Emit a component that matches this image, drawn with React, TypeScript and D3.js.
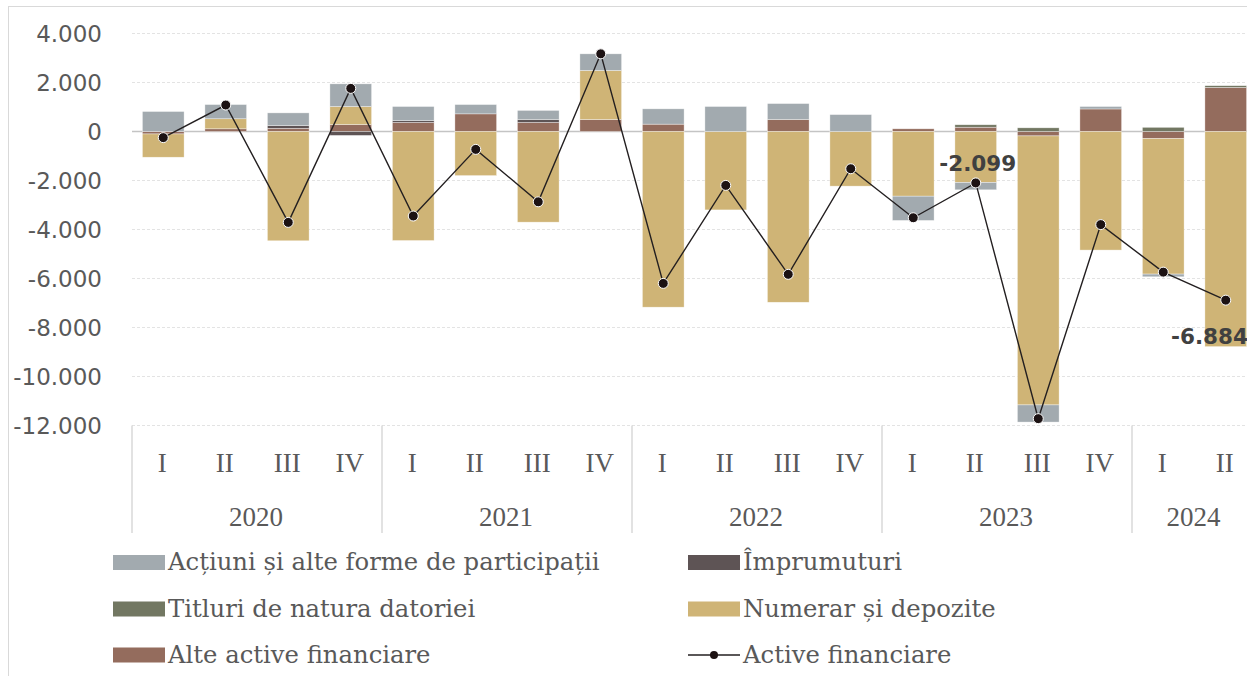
import React from "react";
import * as d3 from "d3";

const quarters = ["I", "II", "III", "IV", "I", "II", "III", "IV", "I", "II", "III", "IV", "I", "II", "III", "IV", "I", "II"];
const yearLabels = ["2020", "2021", "2022", "2023", "2024"];
const yearSpans = [4, 4, 4, 4, 2];

const actiuni = [816, 580, 520, 925, 570, 380, 370, 680, 625, 1020, 650, 690, -990, -300, -700, 100, -110, 0];
const imprumuturi = [0, 0, 110, -160, 80, 0, 120, 0, 0, 0, 0, 0, 0, 0, 0, 0, 0, 0];
const titluri = [0, 0, 0, 0, 0, 0, 0, 0, 0, 0, 0, 0, 0, 100, 150, 0, 170, 70];
const numerar = [-950, 410, -4460, 735, -4450, -1800, -3700, 2000, -7170, -3200, -6970, -2230, -2640, -2080, -10980, -4840, -5530, -8780];
const alte = [-100, 110, 130, 285, 370, 720, 370, 490, 300, 0, 490, 0, 110, 175, -180, 920, -290, 1800];
const activeFinanciare = [-250, 1080, -3710, 1760, -3450, -730, -2870, 3170, -6200, -2200, -5830, -1520, -3520, -2099, -11720, -3800, -5740, -6884];

const yTicks = [-12000, -10000, -8000, -6000, -4000, -2000, 0, 2000, 4000];
const labeledPoints = [13, 17];

const seriesNames = {
  actiuni: "Acțiuni și alte forme de participații",
  imprumuturi: "Împrumuturi",
  titluri: "Titluri de natura datoriei",
  numerar: "Numerar și depozite",
  alte: "Alte active financiare",
  line: "Active financiare",
};

const colors: Record<string, string> = {
  actiuni: "#A2AAAF",
  imprumuturi: "#5E5455",
  titluri: "#727762",
  numerar: "#CFB476",
  alte: "#946C5D",
};

const locale = d3.formatLocale({ decimal: ",", thousands: ".", grouping: [3], currency: ["", ""], minus: "-" });
const fmt = locale.format(",d");

export default function App() {
  const W = 1247;
  const H = 676;
  const x = d3.scaleBand<number>().domain(d3.range(quarters.length)).range([132, 1257]).paddingInner(0.333).paddingOuter(0.1665);
  const step = x.step();
  const y = d3.scaleLinear().domain([-12000, 4000]).range([425.5, 33.5]);

  const rows = quarters.map((q, i) => ({
    i,
    alte: alte[i],
    imprumuturi: imprumuturi[i],
    titluri: titluri[i],
    numerar: numerar[i],
    actiuni: actiuni[i],
  }));
  const keys = ["alte", "imprumuturi", "titluri", "numerar", "actiuni"];
  const stacked = d3.stack<any>().keys(keys).offset(d3.stackOffsetDiverging)(rows);

  const cx = (i: number) => (x(i) as number) + x.bandwidth() / 2;
  const line = d3.line<number>().x((_, i) => cx(i)).y((d) => y(d));

  // year groups
  let acc = 0;
  const groups = yearLabels.map((yl, k) => {
    const start = acc;
    acc += yearSpans[k];
    return { label: yl, x0: 132 + start * step, x1: 132 + acc * step };
  });

  const textColor = "#595959";
  const legendItems = [
    { key: "actiuni", col: 0, row: 0 },
    { key: "imprumuturi", col: 1, row: 0 },
    { key: "titluri", col: 0, row: 1 },
    { key: "numerar", col: 1, row: 1 },
    { key: "alte", col: 0, row: 2 },
    { key: "line", col: 1, row: 2 },
  ];
  const legendX = [113, 688];
  const legendY = [555, 601.5, 647.5];

  return (
    <svg width={W} height={H} style={{ position: "absolute", left: 0, top: 0, background: "#fff" }}>
      <rect x={8.5} y={6.5} width={1260} height={700} fill="#fff" stroke="#d9d9d9" strokeWidth={1} />
      {/* gridlines */}
      {yTicks.map((t) => (
        <line
          key={t}
          x1={132}
          x2={1257}
          y1={y(t)}
          y2={y(t)}
          stroke={t === 0 ? "#c4c4c4" : "#e3e3e3"}
          strokeWidth={t === 0 ? 1.6 : 1}
          strokeDasharray={t === 0 ? undefined : "3,2"}
        />
      ))}
      {/* y tick labels */}
      {yTicks.map((t) => (
        <text
          key={"l" + t}
          x={102}
          y={y(t)}
          dy="0.36em"
          textAnchor="end"
          fontFamily="DejaVu Sans"
          fontSize={23}
          fill={textColor}
        >
          {fmt(t)}
        </text>
      ))}
      {/* bars */}
      {stacked.map((s) => (
        <g key={s.key} fill={colors[s.key]}>
          {s.map((d, i) =>
            d[1] - d[0] === 0 ? null : (
              <rect
                key={i}
                x={x(i)}
                width={x.bandwidth()}
                y={y(Math.max(d[0], d[1]))}
                height={Math.abs(y(d[0]) - y(d[1]))}
                stroke="#ffffff"
                strokeOpacity={0.6}
                strokeWidth={0.6}
              />
            )
          )}
        </g>
      ))}
      {/* zero line over bars */}
      {/* line series */}
      <path d={line(activeFinanciare) || ""} fill="none" stroke="#231F20" strokeWidth={1.4} />
      {activeFinanciare.map((v, i) => (
        <circle key={i} cx={cx(i)} cy={y(v)} r={5} fill="#1C1213" stroke="#fff" strokeWidth={1} />
      ))}
      {/* data labels */}
      {labeledPoints.map((i, k) =>
        k === 0 ? (
          <text key={i} x={cx(i) + 2} y={y(activeFinanciare[i]) - 12} textAnchor="middle" fontFamily="DejaVu Sans" fontWeight="bold" fontSize={21.5} fill="#404040">
            {fmt(activeFinanciare[i])}
          </text>
        ) : (
          <text key={i} x={1248} y={y(activeFinanciare[i]) + 44} textAnchor="end" fontFamily="DejaVu Sans" fontWeight="bold" fontSize={21.5} fill="#404040">
            {fmt(activeFinanciare[i])}
          </text>
        )
      )}
      {/* category axis */}
      {groups.map((g) => (
        <line key={"sep" + g.label} x1={g.x0} x2={g.x0} y1={425.5} y2={533} stroke="#cfcfcf" strokeWidth={1.2} />
      ))}
      <line x1={1257} x2={1257} y1={425.5} y2={533} stroke="#cfcfcf" strokeWidth={1.2} />
      {quarters.map((q, i) => (
        <text key={"q" + i} x={cx(i) - 1} y={472} textAnchor="middle" fontFamily="Liberation Serif" fontSize={27} fill={textColor}>
          {q}
        </text>
      ))}
      {groups.map((g) => (
        <text key={"y" + g.label} x={(g.x0 + g.x1) / 2 - 1} y={526} textAnchor="middle" fontFamily="Liberation Serif" fontSize={27} fill={textColor}>
          {g.label}
        </text>
      ))}
      {/* legend */}
      {legendItems.map((it) => {
        const lx = legendX[it.col];
        const ly = legendY[it.row];
        return (
          <g key={it.key}>
            {it.key === "line" ? (
              <g>
                <line x1={lx} x2={lx + 52} y1={ly + 7.5} y2={ly + 7.5} stroke="#231F20" strokeWidth={1.4} />
                <circle cx={lx + 26} cy={ly + 7.5} r={4} fill="#1C1213" />
              </g>
            ) : (
              <rect x={lx} y={ly} width={52} height={15} fill={colors[it.key]} />
            )}
            <text x={lx + 55} y={ly + 15} fontFamily="DejaVu Serif" fontSize={24.3} fill={textColor}>
              {(seriesNames as any)[it.key]}
            </text>
          </g>
        );
      })}
    </svg>
  );
}
